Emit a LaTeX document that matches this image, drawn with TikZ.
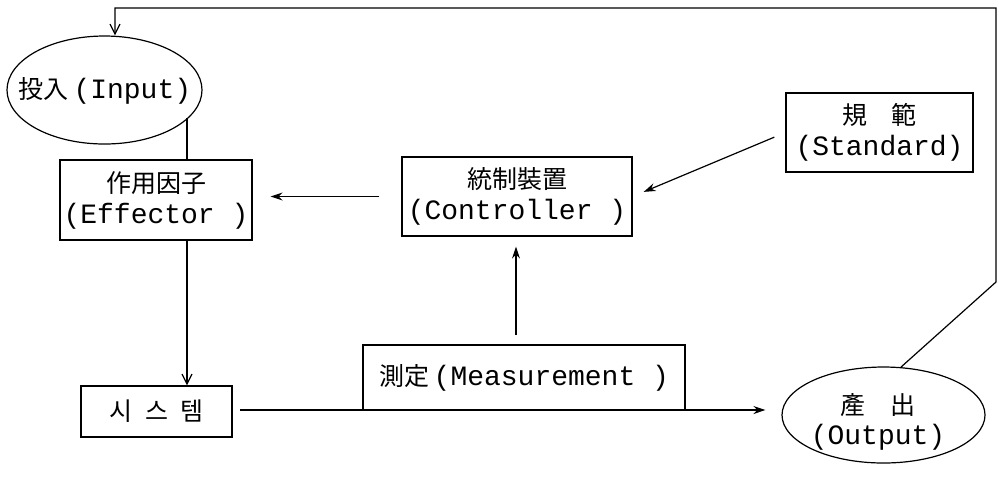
\documentclass[tikz,border=0pt]{standalone}
\usepackage{fontspec}
\setmonofont{Liberation Mono}
\newfontfamily\cjk{Noto Sans CJK KR}
\usetikzlibrary{arrows.meta,shapes.geometric}

\tikzset{
    box/.style={draw, rectangle, inner sep=0pt, align=center, line width=0.6pt,
        font=\fontsize{14}{15.5}\selectfont},
    oval/.style={draw, ellipse, inner sep=0pt, line width=0.6pt},
    label/.style={align=center, inner sep=0pt, font=\fontsize{14}{15}\selectfont},
    flow/.style={line width=0.6pt, -{Stealth[length=6pt,width=4pt]}},
    barb/.style={line width=0.6pt, -{Straight Barb[length=5pt,width=5pt]}},
    plain/.style={line width=0.6pt}
}
\newcommand{\hj}[1]{{\cjk\fontsize{12.5}{15}\selectfont #1}}
\newcommand{\en}[1]{{\ttfamily\fontsize{14}{15}\selectfont #1}}

\begin{document}
\begin{tikzpicture}[x=0.5pt, y=-0.5pt]
        \useasboundingbox (0,0) rectangle (999,479);

        % Ellipses
        \node[oval, minimum width=97.5pt, minimum height=54pt] (input) at (104.5,90) {};
        \node[label] (intext) at (105,91) {\hj{投入}\,\en{(Input)}};
        \node[oval, minimum width=101.5pt, minimum height=48pt] (output) at (883.5,415) {};
        \node[label] (outtext) at (878,422) {\hj{產\quad 出}\\\en{(Output)}};

        % Boxes
        \node[box, minimum width=96pt, minimum height=40pt] (effector) at (156,200)
            {\hj{作用因子}\\\en{(Effector )}};
        \node[box, minimum width=75.5pt, minimum height=25.5pt] (system) at (156.5,411.5)
            {\hj{시\enspace 스\enspace 템}};
        \node[box, minimum width=115pt, minimum height=39.5pt] (controller) at (517,196.5)
            {\hj{統制裝置}\\\en{(Controller )}};
        \node[box, minimum width=93.5pt, minimum height=39.5pt] (standard) at (879.5,132.5)
            {\hj{規\quad 範}\\\en{(Standard)}};
        \node[box, minimum width=161pt, minimum height=32.5pt] (measure) at (524,377.5)
            {\hj{測定}\,\en{(Measurement )}};

        % Feedback loop
        \coordinate (corner) at (996,282);
        \coordinate (fbtop) at (115,8);
        \draw[barb] (output.70) -- (corner) -- (corner |- fbtop) -- (fbtop) -- (fbtop |- input.north);

        % Input to effector to system
        \coordinate (inbot) at (187,118);
        \draw[plain] (inbot) -- (inbot |- effector.north);
        \draw[barb] (inbot |- effector.south) -- (inbot |- system.north);

        % Control arrows
        \draw[flow, shorten <=11pt, shorten >=9pt] (controller.west) -- (controller.west -| effector.east);
        \draw[flow, shorten <=6pt, shorten >=6pt] (standard.west) -- (controller.east);
        \coordinate (meastop) at (516,345);
        \draw[flow, shorten <=5pt, shorten >=5pt] (meastop) -- (meastop |- controller.south);

        % System to output
        \coordinate (sysout) at (232,410);
        \draw[flow, shorten <=4pt, shorten >=8pt] (sysout) -- (sysout -| output.west);
\end{tikzpicture}
\end{document}
